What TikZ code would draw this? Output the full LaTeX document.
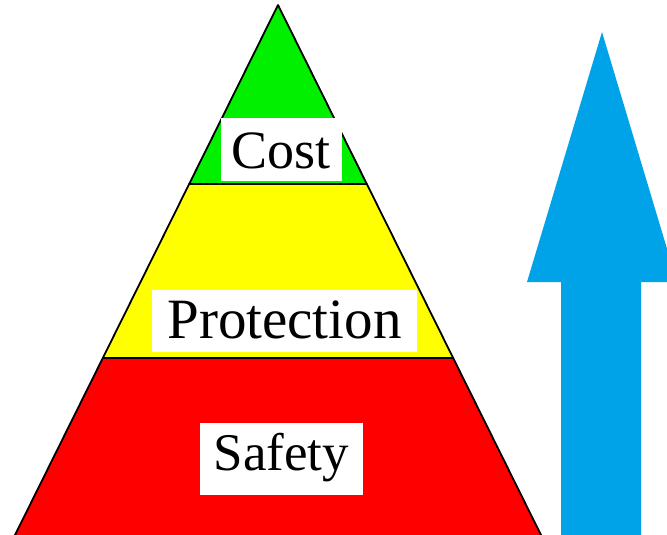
\documentclass[tikz,border=0pt]{standalone}
\usepackage{fontspec}
\setmainfont{Liberation Serif}
\usetikzlibrary{calc}
\definecolor{pgreen}{RGB}{0,240,0}
\definecolor{pyellow}{RGB}{255,255,0}
\definecolor{pred}{RGB}{255,0,0}
\definecolor{arrowblue}{RGB}{0,162,232}
\begin{document}
\begin{tikzpicture}[x=1pt,y=-1pt,
  edge/.style={line width=1.8pt,black,line cap=round,line join=round},
  tierlabel/.style={fill=white,inner xsep=0pt,inner ysep=0pt,text=black,anchor=north}]
\useasboundingbox (0,0) rectangle (667,535);
% pyramid geometry
\coordinate (A) at (278,5);
\coordinate (BL) at ($(A)!1.02!(15,535)$);
\coordinate (BR) at ($(A)!1.02!(541,535)$);
\coordinate (L1) at ($(A)!0.3377!(15,535)$);
\coordinate (R1) at ($(A)!0.3377!(541,535)$);
\coordinate (L2) at ($(A)!0.6660!(15,535)$);
\coordinate (R2) at ($(A)!0.6660!(541,535)$);
% tiers
\fill[pgreen] (A) -- (L1) -- (R1) -- cycle;
\fill[pyellow] (L1) -- (L2) -- (R2) -- (R1) -- cycle;
\fill[pred] (L2) -- (BL) -- (BR) -- (R2) -- cycle;
% outlines
\draw[edge] (BL) -- (A) -- (BR);
\draw[edge] (L1) -- (R1);
\draw[edge] (L2) -- (R2);
% labels
\node[tierlabel, minimum width=121pt, text height=50pt, text depth=13pt,
      font=\fontsize{54}{60}\selectfont] (cost) at (281,118) {Cost};
\node[tierlabel, minimum width=265pt, text height=48pt, text depth=14pt,
      font=\fontsize{57}{62}\selectfont] (protection) at (284.5,290) {Protection};
\node[tierlabel, minimum width=163pt, text height=47pt, text depth=25pt,
      font=\fontsize{53}{60}\selectfont] (safety) at (281.5,423) {Safety};
% blue arrow
\coordinate (tip) at (602,32);
\fill[arrowblue] (561,545) -- (561,282) -- (527,282) -- (tip) -- (677,282)
  -- (641,282) -- (641,545) -- cycle;
\end{tikzpicture}
\end{document}
